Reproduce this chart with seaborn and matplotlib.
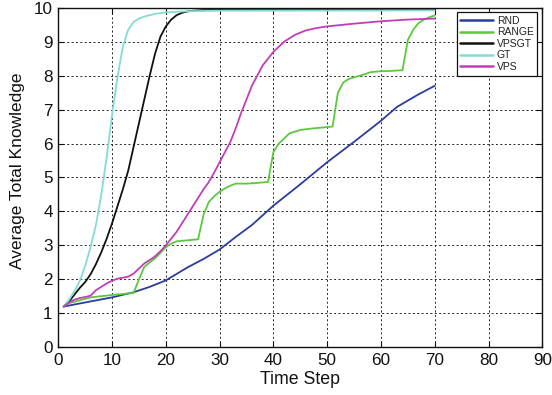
import matplotlib
matplotlib.use("Agg")
import matplotlib.pyplot as plt
import seaborn as sns
import pandas as pd

# Average total knowledge per time step for each strategy
rnd_step = [1, 5, 10, 14, 17, 20, 24, 27, 30, 33, 36, 40, 45, 50, 55, 60, 63, 67, 70]
rnd_val = [1.2, 1.32, 1.47, 1.62, 1.78, 1.97, 2.35, 2.6, 2.88, 3.25, 3.6, 4.17, 4.8,
           5.45, 6.05, 6.67, 7.08, 7.45, 7.7]

range_step = [1, 2, 3, 6, 10, 14, 15, 16, 17, 18, 19, 20, 21, 22, 24, 26, 27, 28, 29,
              30, 31, 32, 33, 35, 37, 39, 40, 41, 42, 43, 45, 47, 49, 51, 52, 53, 54,
              55, 57, 58, 60, 62, 64, 65, 66, 67, 68, 69, 70]
range_val = [1.2, 1.3, 1.34, 1.47, 1.54, 1.6, 2.0, 2.37, 2.5, 2.62, 2.78, 2.95, 3.05,
             3.12, 3.15, 3.18, 3.9, 4.28, 4.45, 4.58, 4.68, 4.76, 4.82, 4.82, 4.84,
             4.87, 5.75, 6.0, 6.15, 6.3, 6.4, 6.44, 6.47, 6.5, 7.5, 7.8, 7.9, 7.95,
             8.04, 8.1, 8.13, 8.14, 8.16, 9.05, 9.35, 9.55, 9.65, 9.72, 9.77]

vpsgt_step = [1, 2, 3, 4, 5, 6, 7, 8, 9, 10, 11, 12, 13, 14, 15, 16, 17, 18, 19, 20,
              21, 22, 23, 24, 25, 27, 70]
vpsgt_val = [1.2, 1.35, 1.55, 1.75, 1.92, 2.15, 2.45, 2.8, 3.2, 3.65, 4.15, 4.65, 5.2,
             5.9, 6.6, 7.3, 8.0, 8.65, 9.15, 9.45, 9.65, 9.78, 9.85, 9.89, 9.91, 9.93,
             9.93]

gt_step = [1, 2, 3, 4, 5, 6, 7, 8, 9, 10, 11, 12, 13, 14, 15, 16, 17, 18, 19, 20, 22,
           25, 30, 70]
gt_val = [1.2, 1.4, 1.65, 1.95, 2.4, 2.95, 3.6, 4.5, 5.6, 6.85, 7.95, 8.85, 9.35, 9.58,
          9.68, 9.74, 9.78, 9.82, 9.84, 9.86, 9.88, 9.9, 9.91, 9.92]

vps_step = [1, 2, 3, 4, 5, 6, 7, 8, 9, 10, 11, 12, 13, 14, 15, 16, 17, 18, 19, 20, 21,
            22, 23, 24, 25, 26, 27, 28, 29, 30, 31, 32, 33, 34, 35, 36, 37, 38, 39, 40,
            42, 44, 46, 48, 50, 55, 60, 65, 70]
vps_val = [1.2, 1.32, 1.4, 1.45, 1.48, 1.52, 1.68, 1.78, 1.88, 1.96, 2.02, 2.05, 2.08,
           2.17, 2.32, 2.47, 2.57, 2.68, 2.83, 3.0, 3.2, 3.4, 3.65, 3.9, 4.15, 4.4,
           4.65, 4.87, 5.15, 5.45, 5.75, 6.05, 6.45, 6.9, 7.3, 7.7, 8.0, 8.3, 8.5, 8.7,
           9.0, 9.2, 9.33, 9.4, 9.45, 9.53, 9.6, 9.65, 9.68]

methods = ["RND", "RANGE", "VPSGT", "GT", "VPS"]
colors = {"RND": "#2b3d9c", "RANGE": "#5cc83e", "VPSGT": "#111111",
          "GT": "#84dcd3", "VPS": "#c03fb8"}

series = {"RND": (rnd_step, rnd_val), "RANGE": (range_step, range_val),
          "VPSGT": (vpsgt_step, vpsgt_val), "GT": (gt_step, gt_val),
          "VPS": (vps_step, vps_val)}

frames = []
for name in methods:
    s, v = series[name]
    frames.append(pd.DataFrame({"Time Step": s, "Knowledge": v, "Method": name}))
df = pd.concat(frames, ignore_index=True)

sns.set_style("ticks")
plt.rcParams["font.family"] = ["Liberation Sans", "DejaVu Sans"]

fig = plt.figure(figsize=(5.52, 3.95), dpi=100)
ax = fig.add_axes([0.1056, 0.1208, 0.8768, 0.8597])

sns.lineplot(data=df, x="Time Step", y="Knowledge", hue="Method",
             hue_order=methods, palette=colors, estimator=None, sort=False,
             linewidth=1.3, ax=ax)

ax.set_xlim(0, 90)
ax.set_ylim(0, 10)
ax.set_xticks(range(0, 91, 10))
ax.set_yticks(range(0, 11, 1))
ax.grid(True, color="#222222", linestyle=(0, (2.0, 2.5)), linewidth=0.7)
ax.tick_params(direction="in", length=4, width=0.8, top=True, right=True,
               labelsize=12.3, colors="#111111", pad=4)
for sp in ax.spines.values():
    sp.set_visible(True)
    sp.set_linewidth(1.0)
    sp.set_color("#111111")

ax.set_xlabel("Time Step", fontsize=12.8, color="#111111", labelpad=2)
ax.set_ylabel("Average Total Knowledge", fontsize=12.5, color="#111111")
ax.yaxis.set_label_coords(-0.068, 0.52)

leg = ax.legend(loc="upper right", bbox_to_anchor=(0.99, 0.987), borderaxespad=0,
                fontsize=7.5, handlelength=3.1, handletextpad=0.4, labelspacing=0.15,
                borderpad=0.35, fancybox=False, framealpha=1, edgecolor="#111111")
leg.get_frame().set_linewidth(0.9)
for line in leg.get_lines():
    line.set_linewidth(1.8)
for t in leg.get_texts():
    t.set_color("#222222")

fig.savefig("out.png", dpi=100)
